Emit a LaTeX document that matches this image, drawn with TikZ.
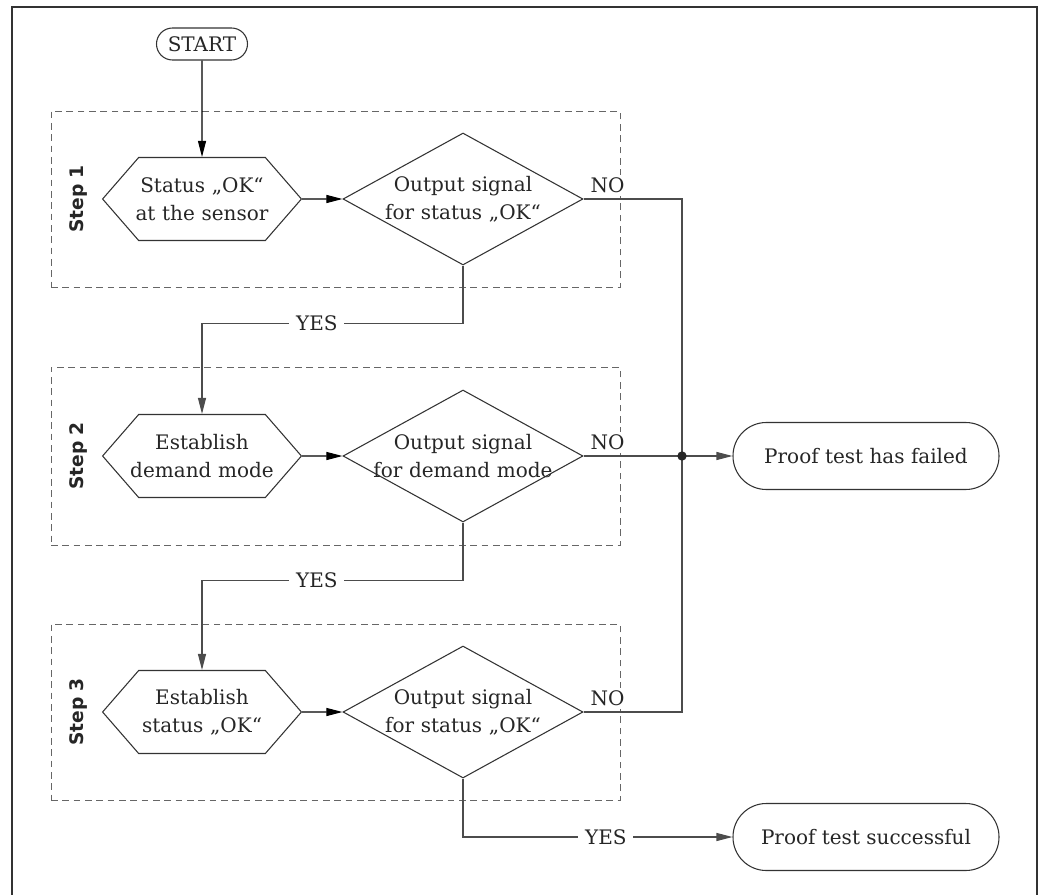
\documentclass[tikz,border=0pt]{standalone}
\usepackage{fontspec}
\setmainfont{DejaVu Serif}
\newfontfamily\stepfont{DejaVu Sans}
\usepackage{tikz}
\usetikzlibrary{arrows.meta,shapes.geometric,shapes.symbols}

\tikzset{
  hexbox/.style={signal, signal to=east and west, signal pointer angle=98,
                 draw=black!80, minimum width=147pt, minimum height=62.25pt,
                 text width=110pt, inner xsep=-7.5pt, inner ysep=0pt, align=center},
  decision/.style={diamond, aspect=1.8, draw=black!80, minimum width=180pt,
                   minimum height=99pt, text width=140pt, inner xsep=-12pt,
                   inner ysep=0pt, align=center},
  terminal/.style={draw=black!80, rounded corners=25pt, minimum width=199.5pt,
                   minimum height=50.25pt},
  stepframe/.style={draw=black!60, dash pattern=on 5pt off 3.5pt,
                    line width=0.7pt, minimum width=426.75pt},
  steplabel/.style={xshift=-92.25pt, rotate=90,
                    font=\stepfont\bfseries\fontsize{14}{16}\selectfont},
  flow/.style={draw=black!70},
  answer/.style={fill=white, inner xsep=5pt, inner ysep=1pt, anchor=center},
  nolabel/.style={anchor=south west, fill=white, inner sep=2pt, xshift=3pt, yshift=2pt}
}

\begin{document}
\begin{tikzpicture}[-,>={Triangle[length=12pt,width=6pt]},node distance=192.75pt,
                    line width=0.8pt,font=\fontsize{15}{21}\selectfont,
                    every node/.append style={text=black!85}]
  \useasboundingbox (0,0) rectangle (783.75pt,-671.25pt);
  \draw[line width=1.1pt, black!80] (9pt,-690pt) -- (9pt,-5.25pt)
        -- (777.75pt,-5.25pt) -- (777.75pt,-690pt);

  \node[draw=black!80, rounded corners=12pt, minimum width=68.25pt, minimum height=24pt,
        inner sep=2pt] (start) at (151.5pt,-33pt) {START};

  \node[hexbox]   (hex1) [below of=start, node distance=116.25pt] {Status „OK“\\at the sensor};
  \node[decision] (dia1) [right of=hex1, node distance=195.75pt]  {Output signal\\for status „OK“};
  \node[hexbox]   (hex2) [below of=hex1]                          {Establish\\demand mode};
  \node[decision] (dia2) [right of=hex2, node distance=195.75pt]  {Output signal\\for demand mode};
  \node[hexbox]   (hex3) [below of=hex2, node distance=192pt]     {Establish\\status „OK“};
  \node[decision] (dia3) [right of=hex3, node distance=195.75pt]  {Output signal\\for status „OK“};

  \node[terminal] (failed)  [right of=dia2, node distance=302.25pt]  {Proof test has failed};
  \node[terminal] (success) [below of=failed, node distance=285.75pt] {Proof test successful};
  \node[coordinate] (junc) [right of=dia2, node distance=164.25pt] {};

  % dashed step frames
  \node[stepframe, minimum height=132pt]   (frame1) [right of=hex1, node distance=100.125pt] {};
  \node[stepframe, minimum height=133.5pt] (frame2) [right of=hex2, node distance=100.125pt] {};
  \node[stepframe, minimum height=132pt]   (frame3) [right of=hex3, node distance=100.125pt] {};
  \node[steplabel] (step1) at (hex1.center) {Step 1};
  \node[steplabel] (step2) at (hex2.center) {Step 2};
  \node[steplabel] (step3) at (hex3.center) {Step 3};

  \draw[->] (start) -- (hex1);
  \draw[->] (hex1) -- (dia1);
  \draw[->] (hex2) -- (dia2);
  \draw[->] (hex3) -- (dia3);

  \draw[flow,->] (dia1.south) -- ++(0,-43.5pt) -| node[answer,pos=.28] {YES} (hex2.north);
  \draw[flow,->] (dia2.south) -- ++(0,-43.5pt) -| node[answer,pos=.28] {YES} (hex3.north);
  \draw[flow,->] (dia3.south) |- node[answer,pos=.765] {YES} (success);

  \draw[flow]    (dia1.east) node[nolabel] {NO} -| (junc);
  \draw[flow,->] (dia2.east) node[nolabel] {NO} -- (junc) -- (failed);
  \draw[flow]    (dia3.east) node[nolabel] {NO} -| (junc);
  \fill[black!85] (junc) circle (3.5pt);

\end{tikzpicture}
\end{document}
